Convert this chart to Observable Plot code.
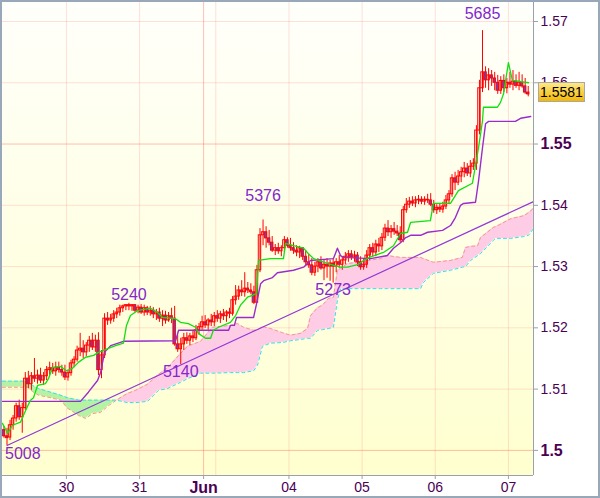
<!DOCTYPE html>
<html><head><meta charset="utf-8">
<script src="https://cdn.jsdelivr.net/npm/d3@7"></script>
<script src="https://cdn.jsdelivr.net/npm/@observablehq/plot@0.6"></script>
<style>
html,body{margin:0;padding:0;background:#fff;}
#chart svg{display:block;}
</style></head><body><div id="chart"></div>
<script>
// Hourly bars; quotes as the last four digits (1.xxxx), as the chart's own labels show them.
const firstHour = 3;
const open = [5033,5023,5021,5041,5052,5072,5054,5069,5117,5108, 5121,5117,5122,5114,5121,5131,5134,5129,5135,5131, 5127,5119,5126,5142,5148,5163,5166,5160,5171,5179, 5168,5179,5131,5155,5215,5212,5215,5222,5225,5232, 5235,5237,5235,5237,5228,5233,5225,5232,5225,5228, 5222,5225,5215,5220,5212,5219,5215,5173,5165,5173, 5183,5179,5186,5183,5196,5201,5209,5204,5212,5209, 5219,5215,5222,5219,5225,5223,5245,5251,5261,5258, 5264,5261,5258,5241,5294,5351,5356,5346,5339,5326, 5330,5325,5330,5343,5334,5330,5326,5323,5330,5316, 5307,5302,5290,5300,5307,5297,5303,5300,5305,5300, 5307,5303,5310,5316,5320,5315,5318,5307,5299,5303, 5318,5330,5323,5336,5333,5347,5362,5356,5361,5357, 5354,5343,5392,5401,5406,5403,5408,5409,5406,5409, 5408,5401,5392,5396,5393,5398,5408,5418,5444,5437, 5447,5454,5460,5452,5463,5468,5522,5591,5617,5604, 5612,5607,5600,5587,5603,5591,5600,5597,5602,5595, 5600,5594,5584];
const high = [5039,5036,5049,5057,5077,5082,5077,5127,5129,5127, 5150,5131,5134,5127,5137,5144,5142,5144,5144,5139, 5139,5131,5147,5153,5170,5191,5179,5176,5186,5191, 5188,5192,5163,5223,5225,5222,5228,5232,5237,5237, 5238,5240,5238,5238,5237,5238,5237,5235,5235,5233, 5230,5232,5228,5227,5225,5232,5235,5188,5183,5191, 5192,5191,5196,5204,5207,5219,5220,5215,5222,5225, 5228,5227,5230,5228,5232,5251,5269,5268,5277,5290, 5274,5272,5268,5302,5362,5376,5365,5359,5349,5336, 5338,5334,5349,5347,5346,5339,5334,5333,5331,5326, 5320,5313,5307,5313,5316,5310,5313,5310,5313,5313, 5318,5316,5323,5326,5326,5325,5323,5316,5313,5326, 5336,5338,5343,5346,5354,5369,5375,5367,5372,5367, 5365,5398,5411,5413,5414,5414,5416,5414,5414,5418, 5419,5408,5401,5403,5405,5416,5424,5450,5454,5457, 5462,5470,5468,5473,5476,5530,5604,5685,5626,5623, 5620,5617,5612,5610,5613,5607,5617,5620,5613,5617, 5613,5607,5594];
const low = [5020,5008,5016,5033,5046,5049,5028,5065,5101,5098, 5111,5108,5109,5106,5114,5122,5124,5121,5126,5121, 5114,5113,5121,5135,5144,5153,5150,5153,5160,5163, 5160,5122,5117,5150,5204,5206,5209,5215,5219,5225, 5228,5228,5227,5225,5223,5222,5219,5220,5219,5215, 5212,5209,5202,5206,5209,5207,5170,5160,5140,5163, 5173,5171,5176,5179,5188,5196,5199,5196,5202,5202, 5209,5207,5212,5209,5215,5219,5237,5245,5251,5250, 5256,5254,5238,5240,5290,5334,5330,5334,5323,5318, 5320,5316,5323,5330,5325,5320,5316,5313,5310,5300, 5297,5285,5284,5290,5294,5277,5281,5276,5273,5290, 5297,5294,5303,5307,5310,5307,5300,5294,5294,5297, 5310,5316,5316,5323,5326,5341,5349,5346,5351,5349, 5339,5339,5387,5395,5398,5396,5401,5401,5400,5403, 5398,5387,5385,5388,5387,5393,5401,5413,5424,5432, 5437,5445,5447,5445,5457,5457,5515,5584,5591,5587, 5594,5587,5581,5581,5584,5582,5591,5587,5591,5587, 5591,5581,5577];
const close = [5023,5020,5041,5052,5072,5054,5069,5117,5108,5121, 5117,5122,5114,5121,5131,5134,5129,5135,5131,5127, 5119,5126,5142,5148,5163,5166,5160,5171,5179,5168, 5179,5131,5155,5215,5212,5215,5222,5225,5232,5235, 5237,5235,5237,5228,5233,5225,5232,5225,5228,5222, 5225,5215,5220,5212,5219,5215,5173,5165,5173,5183, 5179,5186,5183,5196,5201,5209,5204,5212,5209,5219, 5215,5222,5219,5225,5223,5245,5251,5261,5258,5264, 5261,5258,5241,5294,5351,5356,5346,5339,5326,5330, 5325,5330,5343,5334,5330,5326,5323,5330,5316,5307, 5302,5290,5300,5307,5297,5303,5300,5305,5300,5307, 5303,5310,5316,5320,5315,5318,5307,5299,5303,5318, 5330,5323,5336,5333,5347,5362,5356,5361,5357,5354, 5343,5392,5401,5406,5403,5408,5409,5406,5409,5408, 5401,5392,5396,5393,5398,5408,5418,5444,5437,5447, 5454,5460,5452,5463,5468,5522,5591,5617,5604,5612, 5607,5600,5587,5603,5591,5600,5597,5602,5595,5600, 5594,5584,5581];

// Ichimoku lines: [hour, quote]
const tenkan = [[3.0,5044],[4.7,5028],[6.3,5041],[8.9,5046],[10.6,5065],[12.2,5082],[13.2,5086],[14.5,5106],[17.1,5109],[18.1,5117],[19.4,5135],[22.1,5137],[24.0,5130],[26.0,5134],[28.0,5144],[30.3,5152],[32.9,5155],[34.5,5160],[37.5,5166],[40.1,5171],[42.7,5175],[43.7,5204],[45.0,5220],[47.3,5228],[51.6,5232],[53.9,5225],[55.5,5217],[59.8,5215],[61.4,5209],[64.0,5207],[66.3,5201],[67.3,5191],[69.6,5183],[71.3,5183],[72.2,5196],[73.9,5201],[77.8,5209],[79.5,5220],[81.1,5237],[83.4,5250],[85.0,5253],[86.4,5256],[87.0,5310],[90.9,5313],[95.2,5313],[95.9,5338],[98.5,5334],[101.8,5330],[103.4,5321],[105.1,5313],[109.7,5305],[113.9,5299],[116.2,5299],[119.5,5303],[121.5,5310],[123.8,5316],[128.0,5323],[131.3,5334],[133.6,5354],[135.9,5356],[136.9,5372],[143.4,5375],[144.4,5403],[150.0,5403],[152.6,5424],[157.2,5436],[159.2,5494],[160.5,5538],[160.8,5560],[165.4,5560],[166.4,5568],[167.4,5582],[169.0,5633],[170.3,5604],[175.6,5600]];
const kijun = [[3.0,5080],[28.6,5080],[31.2,5095],[34.2,5114],[35.2,5127],[36.5,5160],[38.5,5171],[42.7,5178],[59.8,5179],[60.8,5196],[77.2,5196],[77.8,5204],[79.1,5204],[79.8,5217],[85.4,5217],[86.4,5240],[87.7,5272],[88.7,5277],[91.6,5282],[93.2,5290],[98.5,5294],[101.8,5299],[104.1,5310],[111.6,5313],[112.9,5330],[113.9,5318],[114.9,5315],[123.8,5313],[129.3,5318],[131.3,5330],[133.6,5339],[135.2,5347],[136.9,5351],[140.2,5351],[142.5,5356],[147.4,5359],[150.0,5367],[151.6,5380],[153.3,5400],[154.3,5403],[158.2,5405],[159.2,5440],[160.5,5494],[161.5,5533],[162.5,5537],[171.3,5537],[173.0,5542],[176.3,5545]];
// Cloud: [hour, senkou A, senkou B]
const cloud = [[3.0,5103,5113],[11.2,5103,5113],[12.9,5096,5106],[14.8,5090,5101],[18.8,5086,5095],[22.1,5082,5090],[24.3,5069,5086],[28.0,5057,5082],[30.3,5052,5082],[32.5,5060,5082],[35.2,5062,5082],[37.8,5073,5082],[40.4,5082,5082],[44.0,5093,5078],[46.7,5098,5078],[50.6,5108,5080],[54.2,5124,5098],[57.2,5135,5101],[61.4,5158,5111],[63.7,5170,5117],[68.0,5178,5126],[71.9,5201,5126],[77.8,5204,5127],[80.1,5207,5127],[82.1,5201,5127],[85.4,5196,5130],[86.7,5197,5139],[88.3,5202,5170],[90.9,5199,5175],[94.9,5192,5176],[97.5,5188,5179],[100.8,5191,5181],[103.1,5199,5183],[104.1,5220,5183],[106.4,5233,5196],[108.0,5237,5197],[110.0,5248,5199],[111.6,5250,5201],[112.9,5294,5245],[113.9,5297,5264],[116.2,5305,5264],[119.5,5307,5264],[127.0,5313,5264],[129.3,5318,5264],[133.6,5315,5264],[140.2,5315,5264],[141.1,5313,5274],[144.4,5307,5289],[150.0,5310,5294],[153.9,5315,5299],[154.9,5331,5300],[156.6,5333,5310],[158.9,5334,5318],[159.8,5347,5321],[164.1,5364,5343],[164.8,5365,5346],[169.7,5378,5346],[174.0,5383,5349],[175.6,5388,5351],[177.2,5395,5362]];
const trend = [[4.5,5008],[177.23,5406]];
const peakT = [4.5, 44.5, 61.5, 88.5, 111.5, 160.5];
const peakQ = [5008, 5240, 5140, 5376, 5273, 5685];
const lastQuote = 5581;
const yTicks = [1.51, 1.52, 1.53, 1.54, 1.56, 1.57];
const yTicksBold = [1.5, 1.55];
const dayT = [24, 48, 97, 121, 145, 169];
const dayLabels = ["30", "31", "04", "05", "06", "07"];
const monthT = [69];
const monthLabels = ["Jun"];
const extraGridT = [73];

const q = v => 1 + v / 10000;
const bars = open.map((o, i) => ({t: firstHour + i + 0.5, o: q(o), h: q(high[i]), l: q(low[i]), c: q(close[i])}));
const cl = cloud.map(([t, a, b]) => ({t, a: q(a), b: q(b)}));
const pt = arr => arr.map(([t, v]) => ({t, v: q(v)}));
const peaks = peakT.map((t, i) => ({t, v: q(peakQ[i]), label: String(peakQ[i])}));

const labelColor = "#4b0055";
const peakColor = "#8228cc";
const tickColor = "#98a2ac";
const peakDy = [8, -8, 7, -24, 7, -17];

const defsMark = () => {
  const defs = d3.create("svg:defs");
  const g = defs.append("linearGradient").attr("id", "plotBg").attr("x1", 0).attr("x2", 0).attr("y1", 0).attr("y2", 1);
  g.append("stop").attr("offset", "0%").attr("stop-color", "#fffffb");
  g.append("stop").attr("offset", "100%").attr("stop-color", "#ffffcf");
  const t = defs.append("linearGradient").attr("id", "tagBg").attr("x1", 0).attr("x2", 0).attr("y1", 0).attr("y2", 1);
  t.append("stop").attr("offset", "0%").attr("stop-color", "#ffe98a");
  t.append("stop").attr("offset", "100%").attr("stop-color", "#f2b600");
  return defs.node();
};

const tagMark = (index, scales, values, dims) => {
  const y = scales.y(q(lastQuote));
  const x0 = dims.width - dims.marginRight + 5;
  const g = d3.create("svg:g");
  g.append("rect").attr("x", x0 + 0.5).attr("y", Math.round(y) - 11.5).attr("width", 46).attr("height", 19)
    .attr("fill", "url(#tagBg)").attr("stroke", "#a8a8a8");
  g.append("text").attr("x", x0 + 23.5).attr("y", Math.round(y) - 2).attr("dy", "0.36em")
    .attr("text-anchor", "middle").attr("font-size", 14).attr("fill", "#000")
    .text(q(lastQuote).toFixed(4));
  return g.node();
};

const borderMark = (index, scales, values, dims) => {
  const r = d3.create("svg:rect");
  r.attr("x", 1).attr("y", 1).attr("width", dims.width - 2).attr("height", dims.height - 2)
    .attr("fill", "none").attr("stroke", "#98a8b8").attr("stroke-width", 2);
  return r.node();
};

const xDomain = [3.02, 177.23];
const yDomain = [1.4959, 1.5731];

const chart = Plot.plot({
  width: 600, height: 498,
  marginTop: 2, marginLeft: 2, marginRight: 67, marginBottom: 23,
  x: {domain: xDomain, axis: null, label: null},
  y: {domain: yDomain, axis: null, label: null},
  style: {background: "#fff", fontFamily: "'Liberation Sans', Arial, sans-serif", color: labelColor, overflow: "visible"},
  marks: [
    defsMark,
    Plot.frame({fill: "url(#plotBg)", stroke: "none"}),
    Plot.ruleY(yTicks, {stroke: "rgba(255,110,110,0.22)"}),
    Plot.ruleY(yTicksBold, {stroke: "rgba(255,100,80,0.42)"}),
    Plot.ruleX(dayT.concat(extraGridT), {stroke: "rgba(255,110,110,0.22)"}),
    Plot.ruleX(monthT, {stroke: "rgba(255,90,90,0.4)"}),
    // cloud
    Plot.areaY(cl, {x: "t", y1: "b", y2: d => Math.max(d.a, d.b), fill: "#ffcce6"}),
    Plot.areaY(cl, {x: "t", y1: "a", y2: d => Math.max(d.a, d.b), fill: "#b6f2a4"}),
    Plot.line(cl, {x: "t", y: "a", stroke: "#f4988c", strokeWidth: 1, strokeDasharray: "3,3"}),
    Plot.line(cl, {x: "t", y: "b", stroke: "#2ee0f0", strokeWidth: 1, strokeDasharray: "3,3"}),
    // trend line
    Plot.line(pt(trend), {x: "t", y: "v", stroke: "#9038d8", strokeWidth: 1.2}),
    // candles
    Plot.ruleX(bars, {x: "t", y1: "l", y2: "h", stroke: "#ff0000", strokeWidth: 1}),
    Plot.rect(bars, {x1: d => d.t - 0.4, x2: d => d.t + 0.4, y1: "o", y2: "c",
      fill: d => d.c < d.o ? "#7040b8" : "none", stroke: "#ff0000", strokeWidth: 1}),
    // ichimoku lines
    Plot.line(pt(kijun), {x: "t", y: "v", stroke: "#9a2ccc", strokeWidth: 1.4}),
    Plot.line(pt(tenkan), {x: "t", y: "v", stroke: "#10e010", strokeWidth: 1.3}),
    // peak labels
    ...peaks.map((p, i) => Plot.text([p], {x: "t", y: "v", text: "label", dy: peakDy[i],
      dx: i === 0 ? -2 : 0, textAnchor: i === 0 ? "start" : "middle", lineAnchor: "middle",
      fill: peakColor, fontSize: 16})),
    // axes lines
    Plot.ruleX([xDomain[1]], {stroke: tickColor}),
    Plot.ruleY([yDomain[0]], {stroke: tickColor}),
    Plot.axisY(yTicks, {anchor: "right", label: null, tickSize: 4, tickPadding: 3, fontSize: 14, stroke: tickColor, fill: labelColor,
      tickFormat: d => d.toFixed(2)}),
    Plot.axisY(yTicksBold, {anchor: "right", label: null, tickSize: 4, tickPadding: 3, fontSize: 16, fontWeight: "bold", stroke: tickColor, fill: labelColor,
      tickFormat: d => String(d)}),
    Plot.axisX(dayT, {anchor: "bottom", label: null, tickSize: 4, tickPadding: 3, fontSize: 14, stroke: tickColor, fill: labelColor,
      tickFormat: d => dayLabels[dayT.indexOf(d)]}),
    Plot.axisX(monthT, {anchor: "bottom", label: null, tickSize: 4, tickPadding: 2, fontSize: 16, fontWeight: "bold", stroke: tickColor, fill: labelColor,
      tickFormat: d => monthLabels[monthT.indexOf(d)]}),
    tagMark,
    borderMark
  ]
});
document.getElementById("chart").appendChild(chart);
</script>
</body></html>
